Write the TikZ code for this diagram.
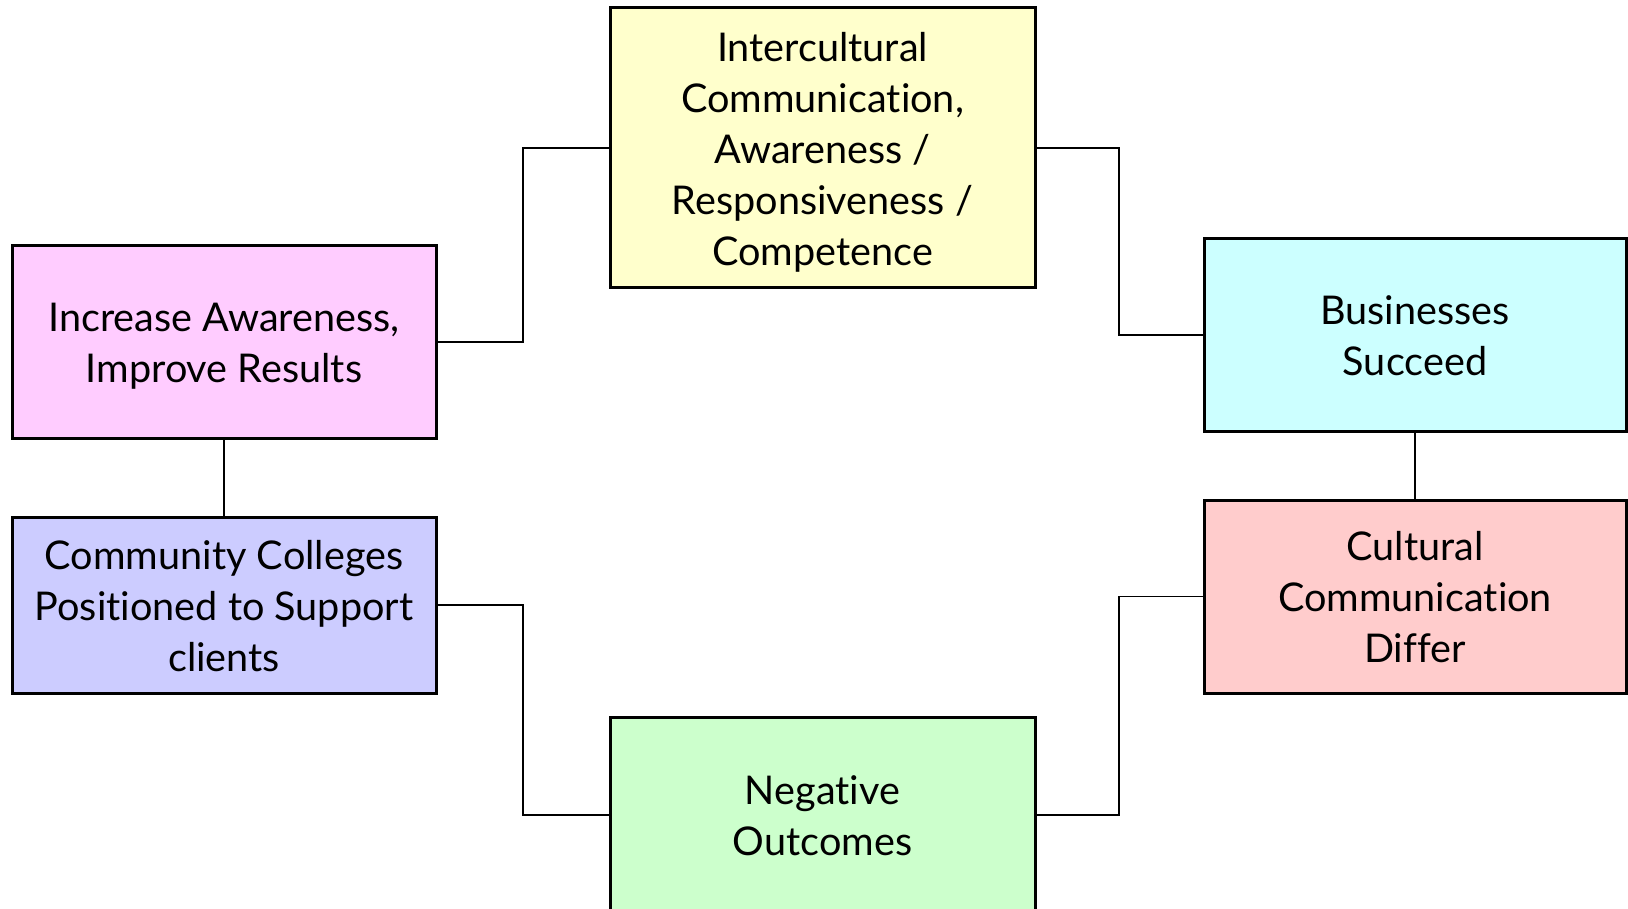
\documentclass[tikz,border=0pt]{standalone}
\usepackage{fontspec}
\setmainfont{Lato}[Ligatures={NoCommon}]
\usetikzlibrary{calc}
\definecolor{cyel}{HTML}{FFFFCC}
\definecolor{cpink}{HTML}{FFCCFF}
\definecolor{ccyan}{HTML}{CCFFFF}
\definecolor{cred}{HTML}{FFCCCC}
\definecolor{cblue}{HTML}{CCCCFF}
\definecolor{cgreen}{HTML}{CCFFCC}
\newcommand{\boxtext}[1]{\raisebox{-5pt}[\height][\depth]{\begin{tabular}{@{}c@{}}#1\end{tabular}}}
\tikzset{
  box/.style={draw=black, line width=3pt, rectangle, inner sep=0pt,
    font=\fontsize{39.6}{51}\selectfont},
  link/.style={draw=black, line width=1.4pt}
}
\begin{document}
\begin{tikzpicture}[x=1pt,y=-1pt]
\useasboundingbox (0,0) rectangle (1628,909);
\clip (0,0) rectangle (1628,909);
\node[box, fill=cyel, minimum width=425pt, minimum height=280pt] (yel) at (822.5,148)
  {\boxtext{Intercultural\\Communication,\\Awareness /\\Responsiveness /\\Competence}};
\node[box, fill=cpink, minimum width=424pt, minimum height=192pt] (pink) at (224,342)
  {\boxtext{Increase Awareness,\\Improve Results}};
\node[box, fill=ccyan, minimum width=422pt, minimum height=192pt] (cyan) at (1415,335)
  {\boxtext{Businesses\\Succeed}};
\node[box, fill=cred, minimum width=422pt, minimum height=193pt] (red) at (1415,596.5)
  {\boxtext{Cultural\\Communication\\Differ}};
\node[box, fill=cblue, minimum width=424pt, minimum height=176pt] (blue) at (224,605)
  {\boxtext{Community Colleges\\Positioned to Support\\clients}};
\node[box, fill=cgreen, minimum width=425pt, minimum height=196pt] (green) at (822.5,815)
  {\boxtext{Negative\\Outcomes}};
\coordinate (xL) at (523,0);
\coordinate (xR) at (1119,0);
\draw[link] (pink.east) -- (pink.east -| xL) |- (yel.west);
\draw[link] (yel.east) -- (yel.east -| xR) |- (cyan.west);
\draw[link] (cyan.south) -- (red.north);
\draw[link] (red.west) -- (red.west -| xR) |- (green.east);
\draw[link] (blue.east) -- (blue.east -| xL) |- (green.west);
\draw[link] (pink.south) -- (blue.north);
\end{tikzpicture}
\end{document}
